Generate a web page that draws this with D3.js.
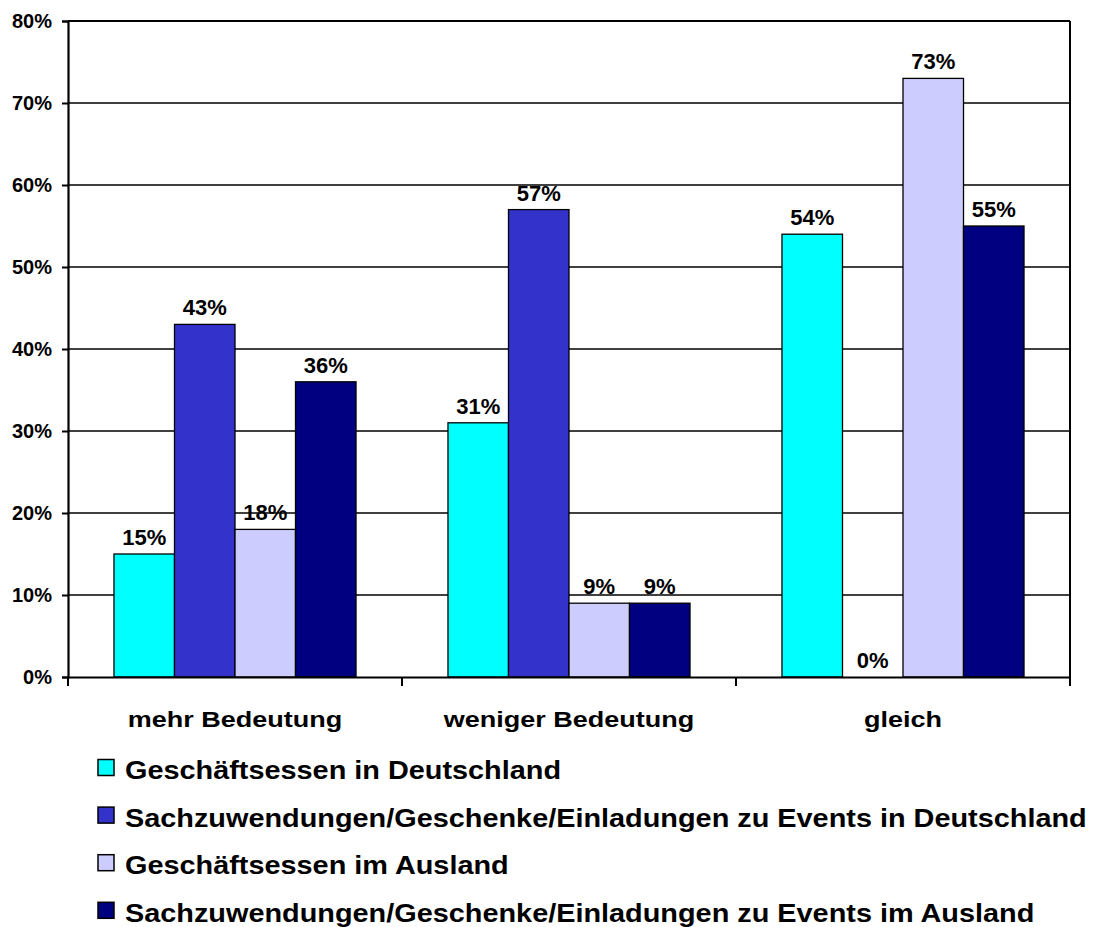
<!DOCTYPE html>
<html>
<head>
<meta charset="utf-8">
<script src="https://cdn.jsdelivr.net/npm/d3@7"></script>
<style>
  html, body { margin: 0; padding: 0; background: #fff; }
  svg { display: block; }
  text { font-family: "Liberation Sans", Arial, sans-serif; font-weight: bold; fill: #000; }
</style>
</head>
<body>
<svg id="chart" width="1108" height="927"></svg>
<script>
const categories = ["mehr Bedeutung", "weniger Bedeutung", "gleich"];
const seriesNames = [
  "Geschäftsessen in Deutschland",
  "Sachzuwendungen/Geschenke/Einladungen zu Events in Deutschland",
  "Geschäftsessen im Ausland",
  "Sachzuwendungen/Geschenke/Einladungen zu Events im Ausland"
];
const seriesColors = ["#00FFFF", "#3333CC", "#CCCCFF", "#000080"];
const geschaeftsessenDE = [15, 31, 54];
const sachzuwendungenDE = [43, 57, 0];
const geschaeftsessenAusland = [18, 9, 73];
const sachzuwendungenAusland = [36, 9, 55];
const seriesValues = [geschaeftsessenDE, sachzuwendungenDE, geschaeftsessenAusland, sachzuwendungenAusland];
const yTicks = [0, 10, 20, 30, 40, 50, 60, 70, 80];

const svg = d3.select("#chart");
const plot = { left: 68, right: 1070, top: 21, bottom: 677 };

const y = d3.scaleLinear().domain([0, 80]).range([plot.bottom, plot.top]);
const x0 = d3.scaleBand().domain(categories).range([plot.left, plot.right]).paddingInner(0).paddingOuter(0);
const x1 = d3.scaleBand().domain(d3.range(seriesNames.length)).range([0, x0.bandwidth()]).paddingInner(0).paddingOuter(0.76);

// gridlines
svg.append("g").selectAll("line").data(yTicks.filter(t => t > 0 && t < 80)).join("line")
  .attr("x1", plot.left).attr("x2", plot.right)
  .attr("y1", d => y(d)).attr("y2", d => y(d))
  .attr("stroke", "#000").attr("stroke-width", 1.5);

// bars
const groups = svg.append("g").selectAll("g").data(categories).join("g")
  .attr("transform", c => `translate(${x0(c)},0)`);
groups.selectAll("rect").data((c, ci) => seriesValues.map((vals, si) => ({ si, v: vals[ci] }))).join("rect")
  .attr("x", d => x1(d.si)).attr("width", x1.bandwidth())
  .attr("y", d => y(d.v)).attr("height", d => y(0) - y(d.v))
  .attr("fill", d => seriesColors[d.si])
  .attr("stroke", "#000").attr("stroke-width", d => d.v > 0 ? 1.3 : 0);
groups.selectAll("text").data((c, ci) => seriesValues.map((vals, si) => ({ si, v: vals[ci] }))).join("text")
  .attr("x", d => x1(d.si) + x1.bandwidth() / 2)
  .attr("y", d => y(d.v) - 9)
  .attr("text-anchor", "middle")
  .attr("font-size", 22)
  .text(d => d.v + "%");

// plot frame (top, right)
svg.append("line").attr("x1", plot.left).attr("x2", plot.right).attr("y1", plot.top).attr("y2", plot.top)
  .attr("stroke", "#000").attr("stroke-width", 2);
svg.append("line").attr("x1", plot.right).attr("x2", plot.right).attr("y1", plot.top).attr("y2", plot.bottom)
  .attr("stroke", "#000").attr("stroke-width", 2);

// y axis
const yAxis = d3.axisLeft(y).tickValues(yTicks).tickSize(6).tickPadding(10).tickFormat(d => d + "%");
const gy = svg.append("g").attr("transform", `translate(${plot.left},0)`).call(yAxis);
gy.select(".domain").attr("stroke", "#000").attr("stroke-width", 2.2);
gy.selectAll(".tick line").attr("stroke", "#000").attr("stroke-width", 2);
gy.selectAll(".tick text").attr("font-size", 20).attr("font-family", null).attr("fill", "#000").attr("dy", "0.34em");

// x axis
const xAxis = d3.axisBottom(x0).tickSize(0).tickPadding(0).tickFormat("");
const gx = svg.append("g").attr("transform", `translate(0,${plot.bottom})`).call(xAxis);
gx.select(".domain").attr("stroke", "#000").attr("stroke-width", 2.2);
gx.selectAll(".tick").remove();
const bounds = [plot.left, ...categories.map(c => x0(c) + x0.bandwidth())];
gx.selectAll("line.bt").data(bounds).join("line").attr("class", "bt")
  .attr("x1", d => d).attr("x2", d => d).attr("y1", 0).attr("y2", 9)
  .attr("stroke", "#000").attr("stroke-width", 2);

// category labels
svg.append("g").selectAll("text").data(categories).join("text")
  .attr("transform", c => `translate(${x0(c) + x0.bandwidth() / 2},727) scale(1.2,1)`)
  .attr("text-anchor", "middle")
  .attr("font-size", 22.5)
  .text(c => c);

// legend
const leg = svg.append("g").selectAll("g").data(seriesNames).join("g")
  .attr("transform", (d, i) => `translate(98,${768 + i * 47.6})`);
leg.append("rect").attr("x", 0).attr("y", -8.5).attr("width", 16).attr("height", 16)
  .attr("fill", (d, i) => seriesColors[i]).attr("stroke", "#000").attr("stroke-width", 1.5);
leg.append("text")
  .attr("transform", "translate(27,11) scale(1.11,1)")
  .attr("font-size", 26)
  .text(d => d);
</script>
</body>
</html>
